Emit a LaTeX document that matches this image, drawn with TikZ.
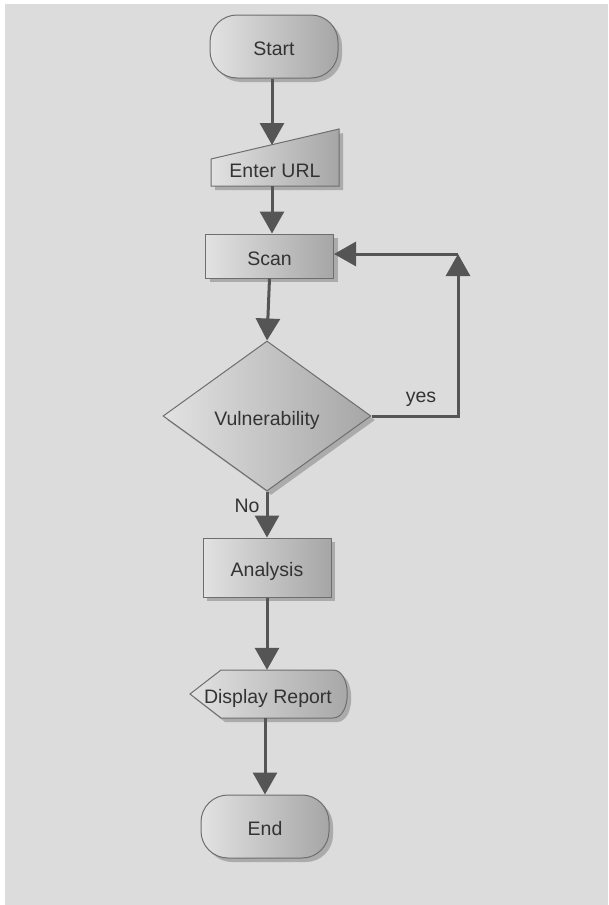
\documentclass[tikz,border=0pt]{standalone}
\usepackage{fontspec}
\setmainfont{Liberation Sans}
\usetikzlibrary{shapes.geometric,arrows.meta,shadows}
\definecolor{bg}{HTML}{DCDCDC}
\definecolor{edgec}{HTML}{6E6E6E}
\definecolor{lite}{HTML}{E2E2E2}
\definecolor{darkc}{HTML}{A6A6A6}
\definecolor{shad}{HTML}{ABABAB}
\definecolor{conn}{HTML}{555555}
\definecolor{txt}{HTML}{333333}
\begin{document}
\begin{tikzpicture}[x=1pt,y=-1pt,
  lbl/.style={text=txt,font=\fontsize{19.5}{21}\selectfont,inner sep=0pt},
  ctext/.style={lbl,text height=18pt,text depth=0pt},
  box/.style={ctext,draw=edgec,line width=1pt,left color=lite,right color=darkc,
    drop shadow={shadow xshift=4pt,shadow yshift=-4pt,fill=shad,opacity=1}},
  terminal/.style={box,rounded corners=27pt,minimum width=128pt,minimum height=63pt},
  process/.style={box,minimum width=128pt},
  decision/.style={box,shape=diamond,minimum width=208pt,minimum height=150pt},
  ghost/.style={inner sep=0pt},
  shapefill/.style={left color=lite,right color=darkc,draw=edgec,line width=1pt},
  arr/.style={draw=conn,line width=3pt,-{Triangle[width=24pt,length=22pt]}}
]
\useasboundingbox (0,0) rectangle (608,905);
\fill[white] (0,0) rectangle (608,905);
\fill[bg] (5,4) rectangle (608,905);

% Start
\node[terminal] (start) at (274,46.5) {Start};

% Enter URL (manual input)
\fill[shad] (215,163) -- (343,133) -- (343,190) -- (215,190) -- cycle;
\shade[shapefill] (211,159) -- (339,129) -- (339,186) -- (211,186) -- cycle;
\node[ghost,minimum width=128pt,minimum height=57pt] (url) at (275,157.5) {};
\node[ctext] (urltext) at (275,168.5) {Enter URL};
\coordinate (urlin) at (272,145);

% Scan
\node[process,minimum height=44pt] (scan) at (269.5,256) {Scan};

% Decision
\node[decision] (dec) at (267,416) {Vulnerability};

% Analysis
\node[process,minimum height=59pt] (ana) at (267,567.5) {Analysis};

% Display Report
\fill[shad] (194,698) -- (225,674) -- (337,674) .. controls (356,674) and (356,722) .. (337,722) -- (225,722) -- cycle;
\shade[shapefill] (190,694) -- (221,670) -- (333,670) .. controls (352,670) and (352,718) .. (333,718) -- (221,718) -- cycle;
\node[ghost,minimum width=157pt,minimum height=48pt] (disp) at (268.5,694) {};
\node[ctext] (disptext) at (268,694) {Display Report};

% End
\node[terminal] (end) at (265,826.5) {End};

% connectors
\draw[arr] (start.south -| urlin) -- (urlin);
\draw[arr] (url.south -| urlin) -- (scan.north -| urlin);
\draw[arr] (scan.south) -- (dec.north);
\draw[arr] (dec.south) -- (ana.north);
\draw[arr] (ana.south) -- (disp.north -| ana.south);
\draw[arr] (disp.south -| end.north) -- (end.north);

\coordinate (c1) at (458,416);
\coordinate (c2) at (458,254);
\draw[arr] (dec.east) -- (c1) -- (c2);
\draw[arr] (c2) -- (scan.east |- c2);

\node[lbl] (yes) at (421,399) {yes};
\node[lbl] (no) at (247,506) {No};
\end{tikzpicture}
\end{document}
